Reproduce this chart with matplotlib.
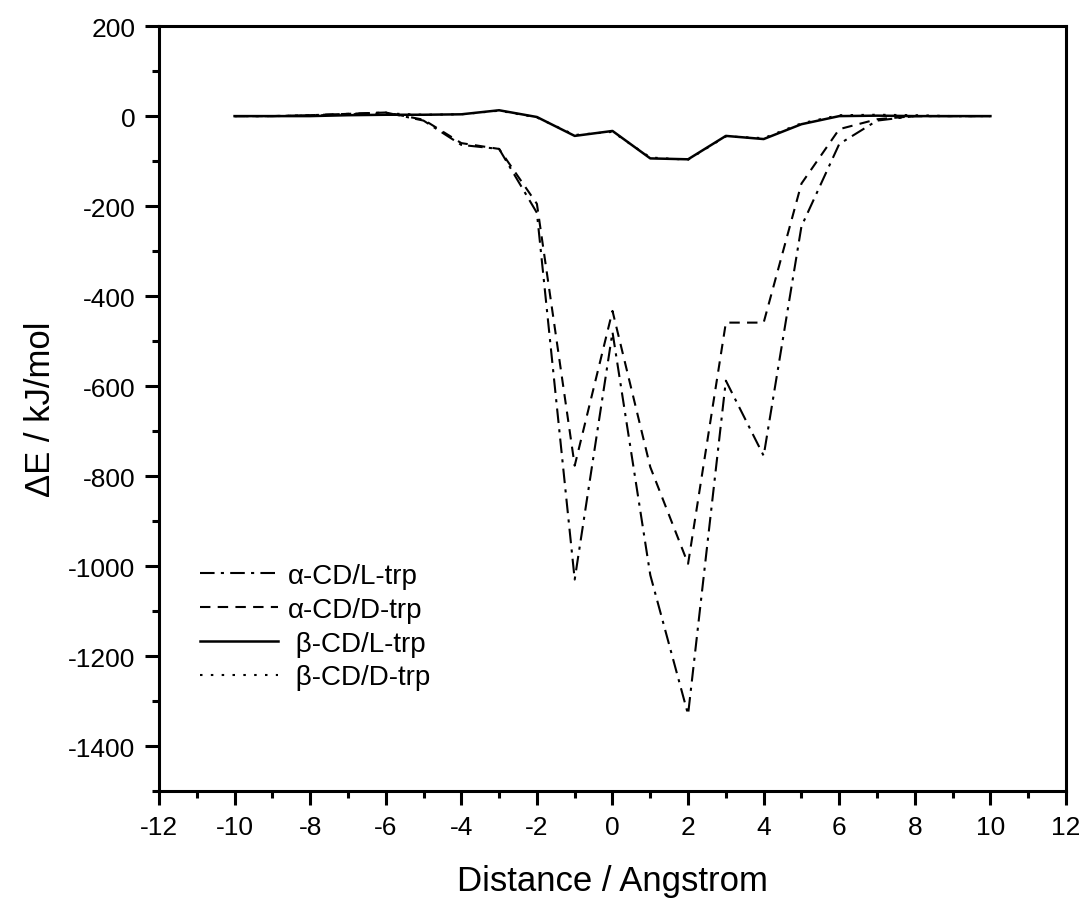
import matplotlib
matplotlib.use("Agg")
import matplotlib.pyplot as plt
from matplotlib.ticker import MultipleLocator

plt.rcParams["font.family"] = ["Liberation Sans", "DejaVu Sans"]
plt.rcParams["axes.unicode_minus"] = False

# interaction energy along the inclusion coordinate
distance = list(range(-10, 11))
a_cd_l_trp = [0, 0, 2, 5, 8, -10, -64, -73, -215, -1030, -480, -1020, -1330,
              -588, -755, -245, -62, -10, 0, 0, 0]
a_cd_d_trp = [0, 0, 2, 5, 8, -8, -60, -73, -195, -777, -433, -780, -995,
              -459, -459, -150, -29, -7, 0, 0, 0]
b_cd_l_trp = [0, 0, 0, 2, 3, 3, 4, 13, -2, -44, -33, -94, -96,
              -44, -51, -18, 0, 1, 0, 0, 0]
b_cd_d_trp = [0, 0, 1, 4, 6, 3, 4, 12, -3, -42, -35, -92, -97,
              -45, -49, -16, 2, 3, 2, 0, 0]

# the beta labels sit a little further right in the original legend
labels = ["α-CD/L-trp", "α-CD/D-trp", " β-CD/L-trp", " β-CD/D-trp"]

fig = plt.figure(figsize=(10.83, 9.04), dpi=100)
ax = fig.add_axes([0.1468, 0.1239, 0.8375, 0.8461])

lw = 1.5
ax.plot(distance, a_cd_l_trp, color="black", lw=lw, dashes=(7, 3, 1.5, 3), label=labels[0])
ax.plot(distance, a_cd_d_trp, color="black", lw=lw, dashes=(5, 3.5), label=labels[1])
ax.plot(distance, b_cd_l_trp, color="black", lw=lw + 0.3, linestyle="-", label=labels[2])
ax.plot(distance, b_cd_d_trp, color="black", lw=lw, dashes=(1.2, 4), label=labels[3])

ax.set_xlim(-12, 12)
ax.set_ylim(-1500, 200)
ax.xaxis.set_major_locator(MultipleLocator(2))
ax.xaxis.set_minor_locator(MultipleLocator(1))
ax.yaxis.set_major_locator(MultipleLocator(200))
ax.yaxis.set_minor_locator(MultipleLocator(100))

for side in ax.spines.values():
    side.set_linewidth(2.2)
ax.tick_params(which="major", direction="out", length=10, width=2.2, labelsize=19, pad=7)
ax.tick_params(which="minor", direction="out", length=5, width=2.2)
ax.tick_params(top=False, right=False, which="both")

ax.set_xlabel("Distance / Angstrom", fontsize=25, labelpad=18)
ax.set_ylabel("ΔE / kJ/mol", fontsize=25, labelpad=8)

ax.legend(loc="upper left", bbox_to_anchor=(0.1847, 0.376), bbox_transform=fig.transFigure,
          frameon=False, fontsize=20, handlelength=2.8, handletextpad=0.35,
          labelspacing=0.28, borderpad=0, borderaxespad=0)

fig.savefig("out.png", dpi=100)
